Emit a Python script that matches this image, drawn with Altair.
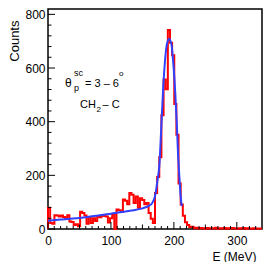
import altair as alt
import pandas as pd

# ---------------- data ----------------
bin_width = 3.4  # MeV, 100 bins over 0-340
hist_counts = [79, 22, 20, 51, 50, 47, 50, 45, 38, 51,
               28, 26, 15, 18, 10, 64, 60, 50, 20, 45,
               22, 40, 30, 47, 44, 52, 48, 47, 24, 40,
               55, 0, 73, 70, 63, 110, 105, 92, 134, 128,
               97, 121, 79, 115, 108, 92, 97, 60, 38, 22,
               134, 194, 267, 424, 557, 521, 742, 694, 648, 466,
               351, 170, 91, 49, 25, 15, 7, 8, 3, 5,
               2, 4, 3, 1, 4, 2, 3, 2, 5, 1,
               3, 2, 4, 1, 3, 2, 4, 2, 1, 3,
               2, 4, 1, 3, 2, 1, 3, 2, 1, 2]

fit_E = [0, 20, 40, 60, 80, 100, 120, 140, 150, 160, 165, 170, 174, 177, 180,
         183, 186, 189, 192.5, 196, 199, 202, 204.5, 206.5, 209, 211, 212.6]
fit_C = [31, 35, 39, 44, 50, 57, 64, 72, 77, 86, 95, 122, 182, 240, 380,
         525, 630, 690, 708, 690, 620, 515, 400, 285, 185, 115, 85]

y_major = [0, 200, 400, 600, 800]
y_minor = [40, 80, 120, 160, 240, 280, 320, 360, 440, 480, 520, 560,
           640, 680, 720, 760]
x_major = [0, 100, 200, 300]
x_half = [50, 150, 250]
x_minor = [10, 20, 30, 40, 60, 70, 80, 90, 110, 120, 130, 140, 160, 170, 180,
           190, 210, 220, 230, 240, 260, 270, 280, 290, 310, 320, 330]

# ---------------- layout ----------------
W, H = 214, 220
XMAX, YMAX = 340, 820
FONT = "Liberation Sans"

edges = [round(i * bin_width, 2) for i in range(len(hist_counts) + 1)]
hist_df = pd.DataFrame({
    "E": [0.0] + edges,
    "C": [0] + hist_counts + [hist_counts[-1]],
})
fit_df = pd.DataFrame({"E": fit_E, "C": fit_C})

xs = alt.Scale(domain=[0, XMAX], nice=False, zero=False)
ys = alt.Scale(domain=[0, YMAX], nice=False)

x_axis = alt.Axis(values=x_major, ticks=False, domain=False, grid=False,
                  labelFont=FONT, labelFontSize=12, labelColor="black",
                  labelPadding=6, labelFlush=False,
                  titleFont=FONT, titleFontSize=12, titleFontWeight="normal",
                  titleColor="black", titleAlign="right", titleAnchor="end",
                  titleX=W - 6, titleY=31, titleBaseline="alphabetic")
y_axis = alt.Axis(values=y_major, ticks=False, domain=False, grid=False,
                  labelFont=FONT, labelFontSize=12, labelColor="black",
                  labelPadding=3, labelFlush=False,
                  titleFont=FONT, titleFontSize=13, titleFontWeight="normal",
                  titleColor="black", titleAngle=270, titleAlign="right",
                  titleBaseline="top", titleX=-39.5, titleY=11)

hist = alt.Chart(hist_df).mark_line(
    color="#ff0000", strokeWidth=2, interpolate="step-after"
).encode(
    x=alt.X("E:Q", scale=xs, title="E (MeV)", axis=x_axis),
    y=alt.Y("C:Q", scale=ys, title="Counts", axis=y_axis),
)

fit = alt.Chart(fit_df).mark_line(
    color="#3040ff", strokeWidth=2, interpolate="monotone"
).encode(
    x=alt.X("E:Q", scale=xs, title="E (MeV)"),
    y=alt.Y("C:Q", scale=ys, title="Counts"),
)


def yticks(vals, length):
    return alt.Chart(pd.DataFrame({"C": vals})).mark_rule(
        color="black", strokeWidth=1
    ).encode(
        y=alt.Y("C:Q", scale=ys, title="Counts"),
        x=alt.value(0), x2=alt.value(length),
    )


def xticks(vals, length):
    return alt.Chart(pd.DataFrame({"E": vals})).mark_rule(
        color="black", strokeWidth=1
    ).encode(
        x=alt.X("E:Q", scale=xs, title="E (MeV)"),
        y=alt.value(H), y2=alt.value(H - length),
    )


dummy = pd.DataFrame({"a": [0]})


def label(txt, px, py, size):
    return alt.Chart(dummy).mark_text(
        text=txt, font=FONT, fontSize=size, color="black",
        align="left", baseline="alphabetic"
    ).encode(x=alt.value(px), y=alt.value(py))


texts = [
    label("θ", 17, 78, 12),
    label("sc", 26, 67, 9),
    label("p", 26, 82, 9),
    label("= 3 – 6", 37, 78, 11),
    label("o", 71, 67, 8),
    label("CH", 32, 99, 11),
    label("2", 48.5, 103, 8),
    label("– C", 54.5, 99, 11),
]

chart = alt.layer(
    hist, fit,
    yticks(y_major, 7), yticks(y_minor, 3.5),
    xticks(x_major, 7), xticks(x_half, 4.5), xticks(x_minor, 3),
    *texts,
).properties(
    width=W, height=H,
    padding={"left": 40, "top": 1, "right": 1, "bottom": 33},
    autosize=alt.AutoSizeParams(type="none"),
    background="white",
).configure_view(stroke="black", strokeWidth=1.5)

chart.save("out.html", embed_options={"renderer": "svg", "actions": False})
